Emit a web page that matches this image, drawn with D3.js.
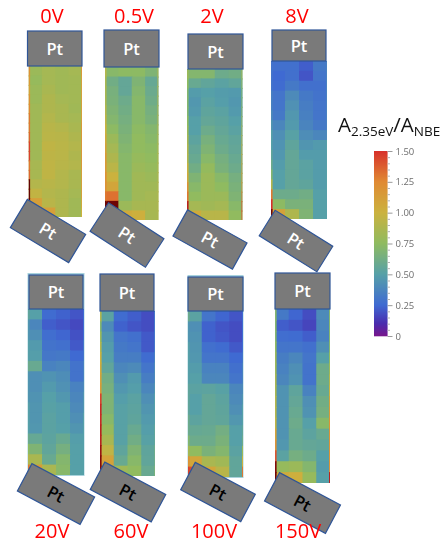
<!DOCTYPE html>
<html><head><meta charset="utf-8">
<script src="https://cdn.jsdelivr.net/npm/d3@7"></script>
<style>
html,body{margin:0;padding:0;background:#fff;overflow:hidden}
svg{display:block;filter:blur(0.55px)}
text{font-family:"Open Sans",sans-serif}
</style></head><body>
<script>
const voltageLabels = ["0V","0.5V","2V","8V","20V","60V","100V","150V"];
const positionColumns = ["a","b","c","d"];
const colorbarTicks = [0,0.25,0.5,0.75,1,1.25,1.5];
const colorbarMinorTicks = [0.05,0.1,0.15,0.2,0.3,0.35,0.4,0.45,0.55,0.6,0.65,0.7,0.8,0.85,0.9,0.95,1.05,1.1,1.15,1.2,1.3,1.35,1.4,1.45];

const values0V = [[.80,.84,.82,.84],[.78,.84,.82,.83],[.80,.86,.82,.83],[.80,.88,.84,.83],[.82,.88,.86,.82],[.82,.90,.86,.84],[.82,.92,.90,.86],[.82,.93,.92,.88],[.82,.95,.93,.90],[.82,.94,.93,.88],[.85,.95,.92,.90],[.85,.95,.90,.86],[.90,.92,.90,.86],[.96,.90,.88,.84],[1.12,.92,.88,.82],[1.22,1.12,.88,.82]];
const values05V = [[.72,.74,.74,.68],[.62,.56,.68,.57],[.65,.56,.70,.59],[.66,.60,.72,.61],[.68,.62,.72,.64],[.70,.64,.72,.66],[.74,.66,.74,.70],[.80,.68,.76,.72],[.84,.70,.76,.74],[.88,.72,.78,.76],[.93,.72,.80,.78],[1.0,.72,.82,.80],[1.08,.72,.82,.82],[1.32,.72,.82,.84],[1.9,.80,.85,.85],[1.12,1.05,1.02,.85]];
const values2V = [[.70,.70,.60,.62],[.58,.55,.52,.55],[.48,.50,.48,.47],[.46,.52,.49,.46],[.47,.54,.52,.47],[.50,.56,.54,.50],[.50,.60,.56,.52],[.53,.65,.58,.55],[.56,.68,.60,.56],[.58,.72,.64,.58],[.62,.77,.66,.60],[.68,.80,.72,.64],[.72,.80,.75,.66],[.76,.80,.80,.68],[.84,.82,.84,.72],[1.05,.92,.92,.76]];
const values8V = [[.28,.28,.22,.32],[.25,.28,.20,.30],[.26,.32,.28,.28],[.30,.40,.32,.29],[.30,.43,.34,.30],[.32,.46,.35,.30],[.38,.47,.37,.32],[.42,.51,.41,.38],[.44,.54,.45,.47],[.46,.56,.48,.48],[.48,.56,.52,.48],[.50,.56,.52,.48],[.50,.56,.54,.48],[.60,.60,.62,.50],[.74,.66,.66,.50],[1.1,.88,.68,.50]];
const values20V = [[.50,.26,.23,.20],[.38,.22,.20,.17],[.42,.27,.24,.19],[.47,.29,.28,.21],[.49,.31,.32,.25],[.58,.36,.38,.29],[.42,.44,.41,.29],[.42,.47,.43,.36],[.44,.50,.46,.38],[.45,.51,.49,.40],[.45,.52,.49,.42],[.46,.52,.50,.45],[.57,.53,.58,.49],[.68,.55,.64,.50],[.86,.58,.70,.50],[1.15,.86,.72,.50]];
const values60V = [[.52,.26,.22,.18],[.40,.23,.20,.18],[.45,.30,.28,.21],[.48,.32,.30,.21],[.50,.34,.34,.26],[.55,.38,.40,.30],[.62,.42,.47,.34],[.65,.46,.49,.38],[.68,.49,.52,.42],[.68,.51,.53,.45],[.72,.51,.54,.47],[.78,.51,.58,.49],[.85,.51,.62,.51],[.95,.54,.68,.54],[1.1,.58,.72,.55],[1.12,.82,.76,.58]];
const values100V = [[.52,.30,.24,.20],[.42,.23,.20,.18],[.44,.23,.21,.18],[.45,.28,.26,.21],[.46,.30,.30,.25],[.48,.36,.36,.28],[.50,.38,.38,.30],[.52,.53,.51,.38],[.50,.56,.53,.40],[.50,.56,.54,.42],[.53,.56,.55,.46],[.57,.58,.63,.50],[.60,.60,.66,.50],[.76,.66,.70,.52],[1.08,.86,.82,.55],[1.42,1.08,.92,.55]];
const values150V = [[.32,.24,.18,.40],[.22,.20,.16,.38],[.27,.26,.22,.36],[.30,.30,.28,.42],[.34,.38,.30,.50],[.36,.42,.29,.60],[.38,.44,.29,.60],[.44,.54,.36,.58],[.44,.56,.42,.62],[.44,.58,.44,.64],[.44,.60,.50,.72],[.44,.58,.53,.58],[.46,.58,.56,.55],[.52,.64,.60,.50],[.78,.80,.70,.48],[1.05,1.02,.78,.50]];
const allValues = [values0V,values05V,values2V,values8V,values20V,values60V,values100V,values150V];

const leftEdge0V = [1.2,1.15,1.1,1.2,1.25,1.3,1.3,1.35,1.45,1.45,1.3,1.35,1.95,1.95,1.95,1.4];
const rightEdge0V = [1.15,1.1,1.1,1.1,1.1,1.1,1.15,1.15,1.15,1.15,1.15,1.1,1.1,1.1,1.05,1.0];
const leftEdge05V = [.9,.85,.85,.85,.9,.95,1.0,1.05,1.1,1.15,1.15,1.2,1.2,1.3,1.9,1.4];
const rightEdge05V = [.9,.9,.9,.9,.9,.9,.9,.9,.9,.9,.9,.9,.9,.9,.9,.9];
const leftEdge2V = [.8,.75,.7,.7,.7,.75,.8,.85,.9,.9,1.0,1.05,1.2,1.3,1.6,1.3];
const rightEdge2V = [.85,.8,.75,.75,.8,.85,.9,.95,1.0,1.05,1.1,1.15,1.2,1.3,1.4,1.4];
const leftEdge8V = [.3,.3,.3,.35,.35,.4,.45,.5,.5,.55,.6,.7,.9,1.3,1.5,1.9];
const rightEdge8V = [.35,.35,.35,.35,.35,.35,.35,.4,.5,.5,.5,.5,.5,.5,.5,.5];
const leftEdge20V = [.55,.45,.45,.5,.5,.6,.45,.45,.45,.5,.5,.5,.6,.75,.9,1.3];
const rightEdge20V = [.25,.25,.25,.3,.3,.35,.35,.4,.45,.45,.5,.5,.5,.5,.5,.5];
const leftEdge60V = [.9,.7,.8,.9,1.0,1.05,1.1,1.15,1.45,1.55,1.55,1.6,1.6,1.7,1.8,1.8];
const rightEdge60V = [.3,.3,.3,.3,.35,.4,.4,.45,.5,.5,.5,.55,.55,.6,.6,.65];
const leftEdge100V = [.6,.45,.45,.5,.5,.5,.5,.55,.55,.55,.6,.6,.7,.85,1.2,1.45];
const rightEdge100V = [.25,.25,.25,.25,.3,.35,.35,.4,.45,.5,.5,.55,.6,.8,1.0,1.3];
const leftEdge150V = [.7,.7,.7,.75,.8,.8,.85,.85,.9,.9,.95,1.1,1.2,1.4,1.8,1.9];
const rightEdge150V = [.7,.7,.7,.7,.75,.8,.9,1.0,1.1,1.15,1.2,1.2,1.2,1.2,1.2,1.6];
const allLeftEdges = [leftEdge0V,leftEdge05V,leftEdge2V,leftEdge8V,leftEdge20V,leftEdge60V,leftEdge100V,leftEdge150V];
const allRightEdges = [rightEdge0V,rightEdge05V,rightEdge2V,rightEdge8V,rightEdge20V,rightEdge60V,rightEdge100V,rightEdge150V];

// layout (pixel geometry of the panels, not data)
const layout = [
 {x0:28.5,x1:82,y0:66,y1:217,bx0:27.5,bx1:82,by0:31,by1:66,cx:48,cy:231,a:31,bw:68,bh:33,lx:52,ly:23,white:true,h:0},
 {x0:105,x1:158.5,y0:67,y1:220,bx0:104,bx1:159,by0:30,by1:67,cx:127,cy:235,a:33,bw:66,bh:34,lx:134,ly:23,white:true,h:0},
 {x0:187,x1:242.5,y0:69,y1:220,bx0:188,bx1:243,by0:34,by1:69,cx:210,cy:239.5,a:29,bw:68,bh:30,lx:212,ly:23,white:true,h:0},
 {x0:271,x1:327,y0:61,y1:219,bx0:272,bx1:326,by0:30,by1:61,cx:296,cy:241,a:32,bw:68,bh:30,lx:297,ly:23,white:true,h:0},
 {x0:28,x1:84,y0:309,y1:475,bx0:29,bx1:83,by0:275,by1:309,cx:56,cy:494,a:28,bw:71,bh:31,lx:52,ly:538,white:false,h:1},
 {x0:100,x1:155,y0:311,y1:476,bx0:100,bx1:154,by0:274,by1:311,cx:128,cy:492,a:28,bw:69,bh:31,lx:131,ly:538,white:false,h:0},
 {x0:188,x1:243,y0:311,y1:477,bx0:188,bx1:243,by0:277,by1:311,cx:218,cy:492,a:28,bw:68,bh:31,lx:214,ly:538,white:false,h:1},
 {x0:275,x1:330,y0:309,y1:483,bx0:275,bx1:330,by0:273,by1:309,cx:302.5,cy:503,a:28,bw:69,bh:32,lx:298,ly:538,white:false,h:0}
];
const rowIdx = d3.range(16);

const color = d3.scaleLinear()
  .domain([0,0.1,0.25,0.5,0.75,1,1.25,1.5,1.75,2])
  .range(["#78168c","#4a2cae","#3f6ad2","#56a0a8","#8fbb60","#cbb23e","#e08a33","#d7302a","#8a0c0c","#5a0000"])
  .clamp(true);

const svg = d3.select("body").append("svg").attr("width",442).attr("height",543);
const defs = svg.append("defs");

const panels = svg.selectAll("g.panel").data(d3.range(8)).join("g").attr("class","panel");

panels.each(function(i){
  const g = d3.select(this), L = layout[i];
  const xs = d3.scaleBand().domain(positionColumns).range([L.x0,L.x1]);
  const ys = d3.scaleBand().domain(rowIdx).range([L.y0,L.y1]);
  defs.append("clipPath").attr("id","clip"+i).append("rect")
    .attr("x",L.x0).attr("y",L.y0).attr("width",L.x1-L.x0).attr("height",L.y1-L.y0);
  if(L.h) g.append("rect").attr("x",L.x0-0.5).attr("y",L.by0-2).attr("width",L.x1-L.x0+1).attr("height",L.y1-L.by0+3).attr("fill","#a9d3dd");
  const cells = g.append("g").attr("clip-path",`url(#clip${i})`);
  allValues[i].forEach((row,r)=>{
    cells.selectAll(null).data(row).join("rect")
      .attr("x",(d,c)=>xs(positionColumns[c])).attr("y",ys(r))
      .attr("width",xs.bandwidth()+1).attr("height",ys.bandwidth()+1)
      .attr("fill",d=>color(d));
  });
  cells.selectAll(null).data(allLeftEdges[i]).join("rect")
    .attr("x",L.x0).attr("y",(d,r)=>ys(r)).attr("width",1.6).attr("height",ys.bandwidth()+1).attr("fill",d=>color(d));
  cells.selectAll(null).data(allRightEdges[i]).join("rect")
    .attr("x",L.x1-1).attr("y",(d,r)=>ys(r)).attr("width",1).attr("height",ys.bandwidth()+1).attr("fill",d=>color(d));
  // top electrode
  g.append("rect").attr("x",L.bx0).attr("y",L.by0).attr("width",L.bx1-L.bx0).attr("height",L.by1-L.by0)
    .attr("fill","#7a7a7a").attr("stroke","#2f5597").attr("stroke-width",1.2);
  g.append("text").attr("x",(L.bx0+L.bx1)/2).attr("y",(L.by0+L.by1)/2+6).attr("text-anchor","middle")
    .attr("font-size",16.5).attr("font-weight",600).attr("fill","#fff").text("Pt");
  // bottom electrode
  const b = g.append("g").attr("transform",`translate(${L.cx},${L.cy}) rotate(${L.a})`);
  b.append("rect").attr("x",-L.bw/2).attr("y",-L.bh/2).attr("width",L.bw).attr("height",L.bh)
    .attr("fill","#7a7a7a").attr("stroke","#2f5597").attr("stroke-width",1.2);
  b.append("text").attr("y",6).attr("text-anchor","middle").attr("font-size",16.5).attr("font-weight",600)
    .attr("fill",L.white?"#fff":"#000").text("Pt");
  // voltage label
  g.append("text").attr("x",L.lx).attr("y",L.ly).attr("text-anchor","middle")
    .attr("font-size",20).attr("fill","#ff0000").text(voltageLabels[i]);
});

// colorbar
const barScale = d3.scaleLinear().domain([0,1.5]).range([336,151]);
const bar = svg.append("g");
bar.selectAll("rect").data(d3.range(0,185)).join("rect")
  .attr("x",374).attr("y",d=>151+d).attr("width",13.5).attr("height",1.3)
  .attr("fill",d=>color(barScale.invert(151+d+0.5)));
const axis = d3.axisRight(barScale).tickValues(colorbarTicks).tickSize(5).tickPadding(3)
  .tickFormat(d=>d===0?"0":d3.format(".2f")(d));
const ag = svg.append("g").attr("transform","translate(387.5,0)").call(axis);
ag.select(".domain").remove();
ag.selectAll("line").attr("stroke","#9a9a9a");
ag.selectAll("text").attr("fill","#6e6e6e").attr("font-size",9.5).attr("font-family","Liberation Sans, sans-serif");
const minorAxis = d3.axisRight(barScale).tickValues(colorbarMinorTicks).tickSize(2.5).tickFormat("");
const mg = svg.append("g").attr("transform","translate(387.5,0)").call(minorAxis);
mg.select(".domain").remove();
mg.selectAll("line").attr("stroke","#b5b5b5");

// colorbar title
const title = svg.append("text").attr("x",338).attr("y",132).attr("font-size",20.5).attr("fill","#111");
title.append("tspan").text("A");
title.append("tspan").attr("font-size",13.5).attr("dy",4).text("2.35eV");
title.append("tspan").attr("dy",-4).text("/A");
title.append("tspan").attr("font-size",13.5).attr("dy",4).text("NBE");
</script>
</body></html>
